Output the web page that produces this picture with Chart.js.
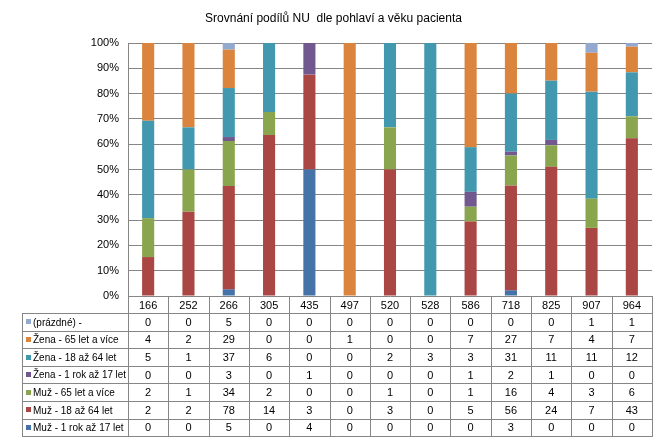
<!DOCTYPE html>
<html>
<head>
<meta charset="utf-8">
<script src="https://cdn.jsdelivr.net/npm/chart.js@4"></script>
<style>
  html, body { margin: 0; padding: 0; background: #fff; }
  #wrap { width: 667px; height: 442px; }
</style>
</head>
<body>
<div id="wrap"><canvas id="chart" width="667" height="442"></canvas></div>
<script>
// kategorie (kódy) a počty podle skupin
const categories = ['166', '252', '266', '305', '435', '497', '520', '528', '586', '718', '825', '907', '964'];
const muz1_17   = [0, 0, 5, 0, 4, 0, 0, 0, 0, 3, 0, 0, 0];
const muz18_64  = [2, 2, 78, 14, 3, 0, 3, 0, 5, 56, 24, 7, 43];
const muz65     = [2, 1, 34, 2, 0, 0, 1, 0, 1, 16, 4, 3, 6];
const zena1_17  = [0, 0, 3, 0, 1, 0, 0, 0, 1, 2, 1, 0, 0];
const zena18_64 = [5, 1, 37, 6, 0, 0, 2, 3, 3, 31, 11, 11, 12];
const zena65    = [4, 2, 29, 0, 0, 1, 0, 0, 7, 27, 7, 4, 7];
const prazdne   = [0, 0, 5, 0, 0, 0, 0, 0, 0, 0, 0, 1, 1];
const yTicks = [0, 10, 20, 30, 40, 50, 60, 70, 80, 90, 100];

const series = [
    { label: 'Muž - 1 rok až 17 let', data: muz1_17, color: '#4572A7' },
    { label: 'Muž - 18 až 64 let', data: muz18_64, color: '#AA4643' },
    { label: 'Muž - 65 let a více', data: muz65, color: '#89A54E' },
    { label: 'Žena - 1 rok až 17 let', data: zena1_17, color: '#71588F' },
    { label: 'Žena - 18 až 64 let', data: zena18_64, color: '#4198AF' },
    { label: 'Žena - 65 let a více', data: zena65, color: '#DB843D' },
    { label: '(prázdné) -', data: prazdne, color: '#93A9CF' }
];

// součty sloupců pro 100% skládání
const totals = categories.map((c, i) => series.reduce((s, ser) => s + ser.data[i], 0));

const FONT = '"Liberation Sans Narrow", Arial, sans-serif';

// tabulka dat pod grafem
const dataTable = {
    id: 'dataTable',
    afterDraw(chart) {
        const ctx = chart.ctx;
        const area = chart.chartArea;
        const n = categories.length;
        const colW = (area.right - area.left) / n;
        const headTop = area.bottom;
        const headBottom = headTop + 17;
        const rowH = 17.6;
        const tableLeft = 22;
        const rows = series.slice().reverse();
        const tableBottom = headBottom + rows.length * rowH;

        ctx.save();
        ctx.strokeStyle = '#868686';
        ctx.lineWidth = 1;
        ctx.beginPath();
        for (let i = 0; i <= n; i++) {
            const x = Math.round(area.left + i * colW) + 0.5;
            ctx.moveTo(x, headTop);
            ctx.lineTo(x, tableBottom);
        }
        ctx.moveTo(tableLeft + 0.5, headBottom);
        ctx.lineTo(tableLeft + 0.5, tableBottom);
        for (let r = 0; r <= rows.length; r++) {
            const y = Math.round(headBottom + r * rowH) + 0.5;
            ctx.moveTo(tableLeft, y);
            ctx.lineTo(area.right + 1, y);
        }
        ctx.stroke();

        ctx.fillStyle = '#000';
        ctx.font = '11px ' + FONT;
        ctx.textAlign = 'center';
        ctx.textBaseline = 'middle';
        categories.forEach((c, i) => {
            ctx.fillText(c, chart.scales.x.getPixelForValue(i), (headTop + headBottom) / 2 + 1);
        });
        rows.forEach((ser, r) => {
            const yc = headBottom + r * rowH + rowH / 2 + 1;
            ctx.font = '11px ' + FONT;
            ser.data.forEach((v, i) => {
                ctx.fillStyle = '#000';
                ctx.textAlign = 'center';
                ctx.fillText(String(v), chart.scales.x.getPixelForValue(i), yc);
            });
            ctx.fillStyle = ser.color;
            ctx.fillRect(tableLeft + 4, Math.round(yc - 3.5), 5, 5);
            ctx.fillStyle = '#000';
            ctx.textAlign = 'left';
            ctx.font = '10px ' + FONT;
            ctx.fillText(ser.label, tableLeft + 11, yc, 128 - tableLeft - 13);
        });
        ctx.restore();
    }
};

new Chart(document.getElementById('chart'), {
    type: 'bar',
    data: {
        labels: categories,
        datasets: series.map(ser => ({
            label: ser.label,
            data: ser.data.map((v, i) => totals[i] ? v / totals[i] * 100 : 0),
            backgroundColor: ser.color,
            borderWidth: 0,
            barPercentage: 0.6,
            categoryPercentage: 0.5
        }))
    },
    options: {
        responsive: false,
        animation: false,
        layout: { padding: { left: 0, right: 0, top: 0, bottom: 146 } },
        plugins: {
            legend: { display: false },
            tooltip: { enabled: false },
            title: {
                display: true,
                text: 'Srovnání podílů NU  dle pohlaví a věku pacienta',
                color: '#000',
                font: { family: FONT, size: 12, weight: 'normal' },
                padding: { top: 11, bottom: 17.6 }
            }
        },
        scales: {
            x: {
                stacked: true,
                display: false
            },
            y: {
                stacked: true,
                min: 0,
                max: 100,
                afterBuildTicks(scale) {
                    scale.ticks = yTicks.map(v => ({ value: v }));
                },
                afterFit(scale) { scale.width = 128; },
                ticks: {
                    color: '#000',
                    padding: 9,
                    font: { family: FONT, size: 11 },
                    callback: v => v + '%'
                },
                grid: { color: '#868686', drawTicks: false },
                border: { color: '#868686' }
            },
            // prázdná pravá osa jen kvůli okraji
            yRight: {
                position: 'right',
                display: true,
                min: 0,
                max: 100,
                afterFit(scale) { scale.width = 15; },
                ticks: { display: false },
                grid: { display: false, drawTicks: false },
                border: { display: false }
            }
        }
    },
    plugins: [dataTable]
});
</script>
</body>
</html>
